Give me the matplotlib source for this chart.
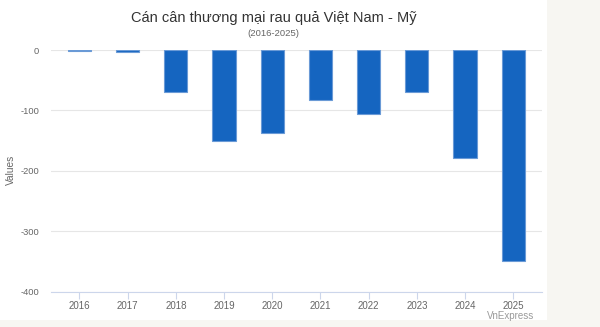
"""
Can can thuong mai rau qua Viet Nam - My, bar chart
out: out.png
"""

import numpy as np
import matplotlib
matplotlib.use("Agg")
import matplotlib.pyplot as plt
from matplotlib.patches import Rectangle

years = ["2016", "2017", "2018", "2019", "2020", "2021", "2022", "2023", "2024", "2025"]
values = [-1, -4, -69, -150, -138, -82, -106, -70, -179, -350]
yticks = [0, -100, -200, -300, -400]

plt.rcParams['font.family'] = ['Liberation Sans', 'DejaVu Sans']

W, H = 600, 327
fig = plt.figure(figsize=(W / 100, H / 100), dpi=100)
fig.patch.set_facecolor("#f7f6f2")

# white card behind the chart
card = Rectangle((0, 1 - 320 / H), 547 / W, 320 / H, transform=fig.transFigure,
                 facecolor="white", edgecolor="none", zorder=-5)
fig.patches.append(card)

ax = fig.add_axes([51 / W, 1 - 291.7 / H, (541.7 - 51) / W, (291.7 - 50) / H])
ax.set_facecolor("none")
ax.set_zorder(2)

x = np.arange(len(years))
ax.bar(x, values, width=0.48, color="#1565c0", edgecolor="#6a9ad6", linewidth=0.8, zorder=3)

ax.set_xlim(-0.59, 9.59)
ax.set_ylim(-400, 0)
ax.set_yticks(yticks)
ax.set_yticklabels([str(v) for v in yticks])
ax.set_xticks(x)
ax.set_xticklabels(years)

ax.grid(axis="y", color="#e6e6e6", linewidth=0.8, zorder=0)
for s in ["top", "right", "left"]:
    ax.spines[s].set_visible(False)
ax.spines["bottom"].set_color("#ccd6eb")
ax.spines["bottom"].set_linewidth(0.8)

ax.tick_params(axis="y", length=0, pad=8.5, labelsize=6.7, labelcolor="#666666")
ax.tick_params(axis="x", length=5, width=0.8, color="#ccd6eb", pad=1.5,
               labelsize=7, labelcolor="#666666")

fig.text(273.5 / W, 1 - 18 / H, "Cán cân thương mại rau quả Việt Nam - Mỹ",
         ha="center", va="center", fontsize=10.5, color="#333333")
fig.text(273.5 / W, 1 - 34 / H, "(2016-2025)",
         ha="center", va="center", fontsize=6.8, color="#666666")
fig.text(11 / W, 1 - 170 / H, "Values", rotation=90,
         ha="center", va="center", fontsize=7.3, color="#666666")
fig.text(511 / W, 1 - 316 / H, "VnExpress",
         ha="center", va="center", fontsize=7, color="#999999")

plt.savefig("out.png", dpi=100, facecolor=fig.get_facecolor())
